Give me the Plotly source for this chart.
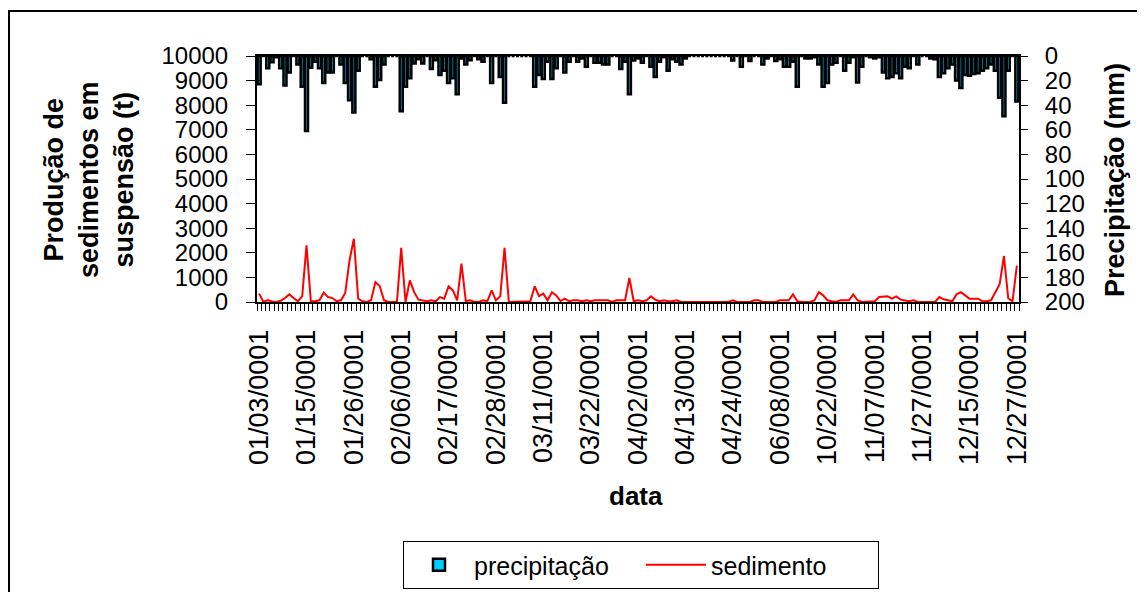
import plotly.graph_objects as go

# ---- data ----
dates_md = [
    "01/03", "01/04", "01/05", "01/06", "01/07", "01/08", "01/10", "01/11", "01/12", "01/13", "01/14",
    "01/15", "01/16", "01/17", "01/18", "01/19", "01/20", "01/21", "01/22", "01/23", "01/24", "01/25",
    "01/26", "01/27", "01/28", "01/29", "01/30", "01/31", "02/01", "02/02", "02/03", "02/04", "02/05",
    "02/06", "02/07", "02/08", "02/09", "02/10", "02/11", "02/12", "02/13", "02/14", "02/15", "02/16",
    "02/17", "02/18", "02/19", "02/20", "02/21", "02/22", "02/23", "02/24", "02/25", "02/26", "02/27",
    "02/28", "03/01", "03/02", "03/03", "03/04", "03/05", "03/06", "03/07", "03/08", "03/09", "03/10",
    "03/11", "03/12", "03/13", "03/14", "03/15", "03/16", "03/17", "03/18", "03/19", "03/20", "03/21",
    "03/22", "03/23", "03/24", "03/25", "03/26", "03/27", "03/28", "03/29", "03/30", "03/31", "04/01",
    "04/02", "04/03", "04/04", "04/05", "04/06", "04/07", "04/08", "04/09", "04/10", "04/11", "04/12",
    "04/13", "04/14", "04/15", "04/16", "04/17", "04/18", "04/19", "04/20", "04/21", "04/22", "04/23",
    "04/24", "04/25", "04/26", "04/28", "05/02", "05/07", "05/12", "05/18", "05/24", "05/30", "06/04",
    "06/08", "06/15", "06/27", "07/10", "07/28", "08/14", "09/02", "09/20", "10/05", "10/14", "10/19",
    "10/22", "10/23", "10/24", "10/25", "10/26", "10/28", "10/29", "10/31", "11/02", "11/04", "11/06",
    "11/07", "11/08", "11/09", "11/11", "11/13", "11/15", "11/17", "11/19", "11/21", "11/23", "11/25",
    "11/27", "11/28", "11/29", "12/01", "12/03", "12/05", "12/07", "12/09", "12/11", "12/12", "12/14",
    "12/15", "12/16", "12/17", "12/18", "12/19", "12/20", "12/21", "12/22", "12/23", "12/24", "12/26",
    "12/27",
]
dates = [d + "/0001" for d in dates_md]

precipitacao = [
    23, 0, 10, 5, 1, 10, 24, 13.5, 0, 7, 25,
    61, 9.5, 4.6, 10, 22, 13.5, 13.5, 0, 7, 22, 36,
    46, 12, 0, 0, 2.7, 25, 19.5, 7, 0, 0, 0,
    45, 25, 18, 6, 2.7, 6, 0, 10.5, 3.5, 15.5, 12,
    22, 18, 31, 2, 7, 3.5, 0, 2.7, 4.6, 0, 22,
    0, 17, 38, 0, 0, 0, 0, 0, 0, 25, 15.5,
    18.7, 4.6, 18.7, 10, 0, 13.5, 4.6, 0, 4.6, 2, 8.7,
    0, 5.4, 5.4, 7, 7, 0, 0, 10.6, 4.6, 31, 3.6,
    2, 5.4, 0, 8.7, 17, 4.6, 1, 12, 2.7, 4.6, 7,
    2, 0, 0, 0, 0, 0, 0, 0, 0, 0, 0,
    3.6, 0, 8.7, 0, 4, 0, 0, 7, 2, 0, 4,
    2.7, 8.7, 8.7, 4.6, 25, 0, 2, 2, 1, 7, 25,
    22, 7, 5.4, 0, 12, 5.4, 1, 21.6, 8.7, 0, 1,
    2, 1, 13.5, 18, 17, 14, 18, 8.7, 10, 0, 7,
    0, 0, 2, 2.7, 17, 14, 10, 7, 20, 26, 15.5,
    16, 14.6, 14, 12, 10, 7, 12, 34, 49, 12, 0,
    37,
]

sedimento = [
    340, 0, 80, 20, 0, 50, 160, 310, 160, 30, 230,
    2300, 40, 30, 70, 380, 200, 160, 30, 70, 370, 1700,
    2570, 135, 30, 0, 70, 810, 650, 70, 0, 0, 0,
    2200, 0, 880, 400, 95, 70, 30, 70, 30, 200, 135,
    640, 470, 70, 1560, 40, 70, 0, 0, 70, 30, 470,
    70, 230, 2200, 0, 0, 0, 0, 0, 30, 640, 240,
    340, 70, 400, 270, 40, 135, 30, 70, 70, 30, 70,
    30, 70, 70, 70, 70, 0, 70, 70, 70, 975, 30,
    70, 30, 70, 230, 95, 30, 70, 30, 30, 70, 0,
    0, 0, 0, 0, 0, 0, 0, 0, 0, 0, 0,
    70, 0, 0, 0, 0, 70, 70, 0, 0, 0, 0,
    70, 70, 70, 310, 30, 0, 0, 0, 70, 400, 270,
    70, 30, 0, 70, 70, 70, 310, 70, 0, 0, 0,
    30, 200, 230, 230, 135, 230, 95, 70, 30, 70, 0,
    0, 0, 0, 0, 200, 110, 70, 30, 310, 400, 270,
    135, 135, 135, 30, 30, 70, 400, 720, 1870, 150, 30,
    1480,
]

label_step = 11
y_left_ticks = list(range(0, 10001, 1000))
y_left_text = [str(v) for v in y_left_ticks]
y_right_ticks = list(range(0, 201, 20))
y_right_text = [str(v) for v in y_right_ticks]

x = list(range(len(dates)))
tick_idx = x[::label_step]
tick_txt = [dates[i] for i in tick_idx]

FONT = "Arial, 'Liberation Sans', sans-serif"

fig = go.Figure()
fig.add_trace(go.Bar(
    x=x, y=precipitacao, name="precipitação", yaxis="y2",
    customdata=dates, hovertemplate="%{customdata}: %{y} mm<extra></extra>",
    marker=dict(color="#00CCFF", line=dict(color="black", width=2.5)),
    width=0.7,
))
fig.add_trace(go.Scatter(
    x=x, y=sedimento, name="sedimento", mode="lines", yaxis="y",
    customdata=dates, hovertemplate="%{customdata}: %{y} t<extra></extra>",
    line=dict(color="#FF0000", width=2),
))

# the page body adds an 8 px offset; targets below are screenshot pixels
OFF = 8
W, H = 1145 - OFF, 592 - OFF
L, R, T, B = 257 - OFF, 1019 - OFF, 56 - OFF, 302 - OFF
pw, ph = R - L, B - T

def px_x(p):
    return (p - OFF - L) / pw

def px_y(p):
    return (B - (p - OFF)) / ph

fig.update_layout(
    width=W, height=H,
    margin=dict(l=L, r=W - R, t=T, b=H - B, pad=0, autoexpand=False),
    paper_bgcolor="white", plot_bgcolor="white",
    font=dict(family=FONT, color="black", size=24),
    showlegend=True,
    legend=dict(
        orientation="h", xref="container", yref="container",
        x=(403 - OFF) / W, xanchor="left", y=1 - (541 - OFF) / H, yanchor="top",
        bordercolor="black", borderwidth=1, font=dict(size=25, family=FONT),
        itemwidth=60, entrywidth=162, entrywidthmode="pixels", traceorder="normal",
    ),
    xaxis=dict(
        range=[-0.5, len(x) - 0.5], showgrid=False, zeroline=False, automargin=False,
        showline=True, linecolor="black", linewidth=2, mirror=True,
        tickmode="array", tickvals=tick_idx, ticktext=tick_txt,
        tickangle=-90, ticks="", ticklabelstandoff=15,
        tickfont=dict(size=27, family=FONT),
        minor=dict(tickmode="linear", tick0=0.5, dtick=1, ticks="outside",
                   ticklen=7, tickwidth=1, tickcolor="black"),
    ),
    yaxis=dict(
        range=[0, 10000], tickmode="array", tickvals=y_left_ticks, ticktext=y_left_text,
        showgrid=False, zeroline=False, automargin=False,
        showline=True, linecolor="black", linewidth=2,
        ticks="outside", ticklen=9, tickwidth=1, tickcolor="black",
        ticklabelstandoff=13, tickfont=dict(size=24, family=FONT),
    ),
    yaxis2=dict(
        range=[200, 0], tickmode="array", tickvals=y_right_ticks, ticktext=y_right_text,
        overlaying="y", side="right", automargin=False,
        anchor="x", showgrid=False, zeroline=False,
        showline=True, linecolor="black", linewidth=2,
        ticks="outside", ticklen=7, tickwidth=1, tickcolor="black",
        ticklabelstandoff=12, tickfont=dict(size=24, family=FONT),
    ),
    yaxis3=dict(
        range=[200, 0], tickmode="array", tickvals=y_right_ticks, overlaying="y", side="right",
        anchor="x", showgrid=False, zeroline=False, showline=False, automargin=False,
        ticks="inside", ticklen=7, tickwidth=1, tickcolor="black",
        showticklabels=False,
    ),
    annotations=[
        dict(text="<b>Produção de<br>sedimentos em<br>suspensão (t)</b>",
             xref="paper", yref="paper", x=px_x(89), y=px_y(180),
             xanchor="center", yanchor="middle", textangle=-90, showarrow=False,
             font=dict(size=27, family=FONT)),
        dict(text="<b>Precipitação (mm)</b>",
             xref="paper", yref="paper", x=px_x(1115), y=px_y(180),
             xanchor="center", yanchor="middle", textangle=-90, showarrow=False,
             font=dict(size=27, family=FONT)),
        dict(text="<b>data</b>",
             xref="paper", yref="paper", x=px_x(636), y=px_y(496),
             xanchor="center", yanchor="middle", showarrow=False,
             font=dict(size=26, family=FONT)),
    ],
    shapes=[
        dict(type="rect", xref="paper", yref="paper",
             x0=px_x(9), x1=px_x(1170), y0=px_y(620), y1=px_y(11),
             line=dict(color="black", width=2), fillcolor="rgba(0,0,0,0)", layer="above"),
    ],
)

fig.write_html("out.html")
